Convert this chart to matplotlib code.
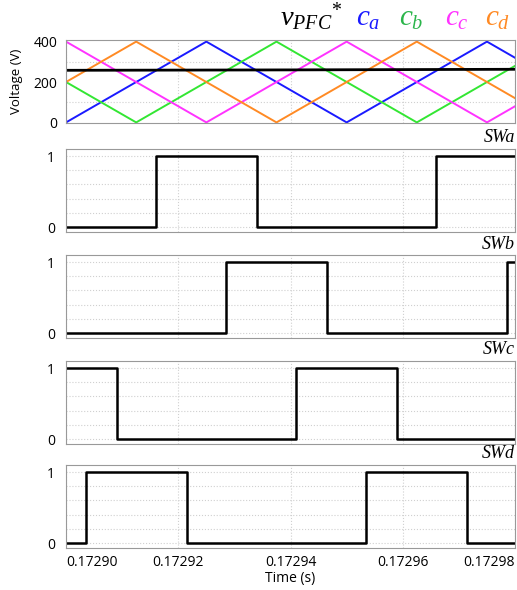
import matplotlib
matplotlib.use("Agg")
import matplotlib.pyplot as plt

plt.rcParams['font.family'] = ['Open Sans', 'DejaVu Sans']
plt.rcParams['mathtext.fontset'] = 'custom'
plt.rcParams['mathtext.it'] = 'Liberation Serif:italic'
plt.rcParams['mathtext.rm'] = 'Liberation Serif'

# carrier vertices (time in s, value in V)
ca_t = [0.17290, 0.172925, 0.17295, 0.172975, 0.17298]
ca_v = [0, 400, 0, 400, 320]
cb_t = [0.17290, 0.1729125, 0.1729375, 0.1729625, 0.17298]
cb_v = [200, 0, 400, 0, 280]
cc_t = [0.17290, 0.172925, 0.17295, 0.172975, 0.17298]
cc_v = [400, 0, 400, 0, 80]
cd_t = [0.17290, 0.1729125, 0.1729375, 0.1729625, 0.17298]
cd_v = [200, 400, 0, 400, 120]
vpfc_t = [0.17290, 0.17294, 0.17298]
vpfc_v = [258, 260, 263]

# switching signals (step, post)
swa_t = [0.17290, 0.172916, 0.172934, 0.172966, 0.17298]
swa_v = [0, 1, 0, 1, 1]
swb_t = [0.17290, 0.1729285, 0.1729465, 0.1729785, 0.17298]
swb_v = [0, 1, 0, 1, 1]
swc_t = [0.17290, 0.172909, 0.172941, 0.172959, 0.17298]
swc_v = [1, 0, 1, 0, 0]
swd_t = [0.17290, 0.1729035, 0.1729215, 0.1729535, 0.1729715, 0.17298]
swd_v = [0, 1, 0, 1, 0, 0]

xticks = [0.17290, 0.17292, 0.17294, 0.17296, 0.17298]
xticklabels = ['0.17290', '0.17292', '0.17294', '0.17296', '0.17298']
sw_names = ['SWa', 'SWb', 'SWc', 'SWd']

blue = '#1a1aff'
green = '#33e633'
magenta = '#ff33ff'
orange = '#ff8a24'

fig = plt.figure(figsize=(5.17, 5.90), dpi=100)
left, width, h = 0.1277, 0.8685, 0.1407
bottoms = [0.7915, 0.6068, 0.4271, 0.2475, 0.0712]


def style(ax):
    for s in ax.spines.values():
        s.set_color('#999999')
        s.set_linewidth(0.8)
    ax.tick_params(length=0, labelsize=10)
    ax.set_xlim(0.17290, 0.17298)
    ax.set_xticks(xticks)
    ax.grid(True, which='both', color='#d0d0d0', linestyle=':', linewidth=0.8)
    ax.set_axisbelow(True)


# carriers panel
ax0 = fig.add_axes([left, bottoms[0], width, h])
style(ax0)
ax0.plot(ca_t, ca_v, color=blue, lw=1.4)
ax0.plot(cb_t, cb_v, color=green, lw=1.4)
ax0.plot(cc_t, cc_v, color=magenta, lw=1.4)
ax0.plot(cd_t, cd_v, color=orange, lw=1.4)
ax0.plot(vpfc_t, vpfc_v, color='black', lw=2)
ax0.set_ylim(-3, 408)
ax0.set_yticks([0, 200, 400])
ax0.set_yticks([100, 300], minor=True)
ax0.tick_params(which='both', length=0, pad=6)
ax0.grid(False, axis='y', which='major')
ax0.set_xticklabels([])
ax0.set_ylabel('Voltage (V)', fontsize=9.5, labelpad=8)

sw_t = [swa_t, swb_t, swc_t, swd_t]
sw_v = [swa_v, swb_v, swc_v, swd_v]
for i in range(4):
    ax = fig.add_axes([left, bottoms[i + 1], width, h])
    style(ax)
    ax.step(sw_t[i], sw_v[i], where='post', color='black', lw=1.8)
    ax.set_ylim(-0.07, 1.1)
    ax.set_yticks([0, 1])
    ax.set_yticks([0.2, 0.4, 0.6, 0.8], minor=True)
    ax.tick_params(which='both', length=0, pad=8)
    ax.text(1.0, 1.03, sw_names[i], transform=ax.transAxes, ha='right', va='bottom',
            fontsize=13, family='Liberation Serif', style='italic')
    if i < 3:
        ax.set_xticklabels([])
    else:
        ax.set_xticklabels(xticklabels)
        labs = ax.get_xticklabels()
        labs[0].set_ha('left')
        labs[-1].set_ha('right')
        ax.tick_params(axis='x', pad=5)
        ax.set_xlabel('Time (s)', fontsize=10, labelpad=1)

# legend-like title
ty = 1 - 26 / 590
fig.text(280 / 517, ty, r'$v_{PFC}{}^{*}$', fontsize=20.5, color='black', va='baseline')
fig.text(356 / 517, ty, r'$c_{a}$', fontsize=21, color=blue, va='baseline')
fig.text(399 / 517, ty, r'$c_{b}$', fontsize=21, color='#2bb54b', va='baseline')
fig.text(445 / 517, ty, r'$c_{c}$', fontsize=21, color=magenta, va='baseline')
fig.text(485 / 517, ty, r'$c_{d}$', fontsize=21, color=orange, va='baseline')

fig.savefig('out.png', dpi=100)
